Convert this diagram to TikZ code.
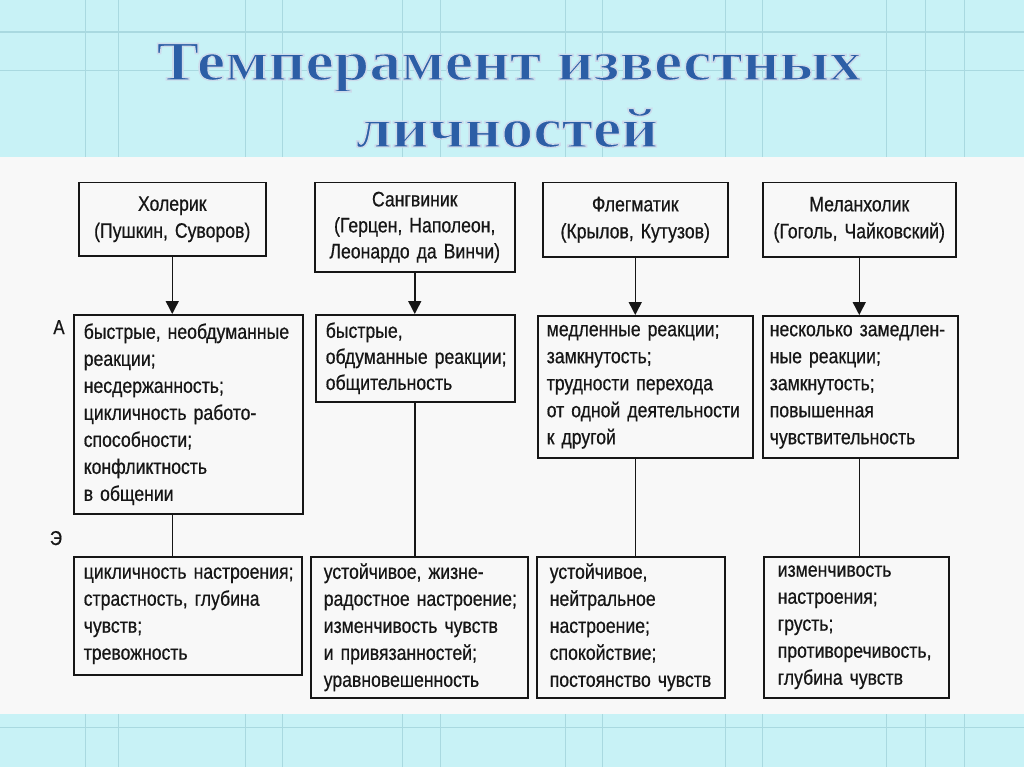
\documentclass[tikz,border=0pt]{standalone}
\usepackage{fontspec}
\setmainfont[FakeStretch=0.84,FakeBold=0.6]{Liberation Sans}
\newfontfamily\titlefont{Liberation Serif}
\usetikzlibrary{arrows.meta}
\definecolor{bandcyan}{HTML}{C8F2F6}
\definecolor{gridcyan}{HTML}{A9D9E0}
\definecolor{paper}{HTML}{F8F8F8}
\definecolor{titleblue}{HTML}{2C5EA6}
\definecolor{ink}{HTML}{161616}
\newcommand\Ln[1]{\mbox{#1}}
\newcommand\Outl[1]{\special{pdf:literal direct 2 Tr 1.4 w 0.80 0.86 0.92 RG}#1\special{pdf:literal direct 0 Tr}}
\tikzset{
  every node/.style={inner sep=0pt},
  bx/.style={draw=ink, line width=1.5pt, anchor=north west, inner xsep=10pt, inner ysep=0pt,
    align=left, text=ink, font=\fontsize{21}{27}\selectfont},
  hbx/.style={bx, align=center, inner xsep=4pt, font=\fontsize{21}{27}\selectfont},
  conn/.style={draw=ink, line width=1.5pt},
  arr/.style={conn, -{Triangle[width=13pt,length=13pt]}},
  grid line/.style={draw=gridcyan, line width=1pt},
  lbl/.style={text=ink, font=\fontsize{20}{24}\selectfont},
  ttl/.style={text=titleblue, font=\titlefont\bfseries\fontsize{56}{60}\selectfont}
}
\begin{document}
\begin{tikzpicture}[x=1pt,y=-1pt]
\useasboundingbox (0,0) rectangle (1024,767);
% background bands
\fill[bandcyan] (0,0) rectangle (1024,157);
\fill[paper] (0,157) rectangle (1024,714);
\fill[bandcyan] (0,714) rectangle (1024,767);
\foreach \gx in {85,118,245,282,402,440,565,602,725,762,886,925,964}{
  \draw[grid line] (\gx,0) -- (\gx,157);
  \draw[grid line] (\gx,714) -- (\gx,767);
}
\draw[grid line, line width=1.3pt] (0,32) -- (1024,32);
\draw[grid line, line width=0.7pt] (0,70) -- (1024,70);
\draw[grid line, line width=0.7pt] (0,727) -- (1024,727);
% title
\node[ttl, anchor=base] (t1) at (509,80) {\scalebox{1.14}[1]{\Outl{Темперамент известных}}};
\node[ttl, anchor=base] (t2) at (507,147) {\scalebox{1.14}[1]{\Outl{личностей}}};
% headers
\node[hbx, minimum width=187pt, minimum height=73pt, text width=179pt] (h1) at (78,182) {\Ln{Холерик}\\\Ln{(Пушкин, Суворов)}};
\node[hbx, minimum width=200pt, minimum height=89pt, text width=192pt, font=\fontsize{21}{26}\selectfont] (h2) at (314,182) {\Ln{Сангвиник}\\\Ln{(Герцен, Наполеон,}\\\Ln{Леонардо да Винчи)}};
\node[hbx, minimum width=185pt, minimum height=74pt, text width=177pt] (h3) at (542,182) {\Ln{Флегматик}\\\Ln{(Крылов, Кутузов)}};
\node[hbx, minimum width=193pt, minimum height=74pt, text width=185pt] (h4) at (762,182) {\Ln{Меланхолик}\\\Ln{(Гоголь, Чайковский)}};
% A row
\node[bx, minimum width=229pt, minimum height=199pt, text width=209pt] (a1) at (73,314) {\Ln{быстрые, необдуманные}\\\Ln{реакции;}\\\Ln{несдержанность;}\\\Ln{цикличность работо-}\\\Ln{способности;}\\\Ln{конфликтность}\\\Ln{в общении}};
\node[bx, minimum width=199pt, minimum height=87pt, text width=179pt, font=\fontsize{21}{26}\selectfont] (a2) at (315,314) {\Ln{быстрые,}\\\Ln{обдуманные реакции;}\\\Ln{общительность}};
\node[bx, minimum width=215pt, minimum height=142pt, text width=197pt, inner xsep=9pt] (a3) at (537,315) {\Ln{медленные реакции;}\\\Ln{замкнутость;}\\\Ln{трудности перехода}\\\Ln{от одной деятельности}\\\Ln{к другой}};
\node[bx, minimum width=195pt, minimum height=142pt, text width=181pt, inner xsep=7pt] (a4) at (762,315) {\Ln{несколько замедлен-}\\\Ln{ные реакции;}\\\Ln{замкнутость;}\\\Ln{повышенная}\\\Ln{чувствительность}};
% E row
\node[bx, minimum width=228pt, minimum height=118pt, text width=208pt] (e1) at (73,556) {\Ln{цикличность настроения;}\\\Ln{страстность, глубина}\\\Ln{чувств;}\\\Ln{тревожность}};
\node[bx, minimum width=217pt, minimum height=141pt, text width=191pt, inner xsep=13pt] (e2) at (310,556) {\Ln{устойчивое, жизне-}\\\Ln{радостное настроение;}\\\Ln{изменчивость чувств}\\\Ln{и привязанностей;}\\\Ln{уравновешенность}};
\node[bx, minimum width=188pt, minimum height=141pt, text width=162pt, inner xsep=13pt] (e3) at (536,556) {\Ln{устойчивое,}\\\Ln{нейтральное}\\\Ln{настроение;}\\\Ln{спокойствие;}\\\Ln{постоянство чувств}};
\node[bx, minimum width=185pt, minimum height=141pt, text width=157pt, inner xsep=14pt] (e4) at (763,556) {\Ln{изменчивость}\\\Ln{настроения;}\\\Ln{грусть;}\\\Ln{противоречивость,}\\\Ln{глубина чувств}};
% labels
\node[lbl, anchor=base] (la) at (59,334) {А};
\node[lbl, anchor=base] (le) at (56,545) {Э};
% connectors
\foreach \i in {1,2,3,4}{
  \draw[arr] (h\i.south) -- (h\i.south |- a\i.north);
  \draw[conn] (h\i.south |- a\i.south) -- (h\i.south |- e\i.north);
}
\end{tikzpicture}
\end{document}
